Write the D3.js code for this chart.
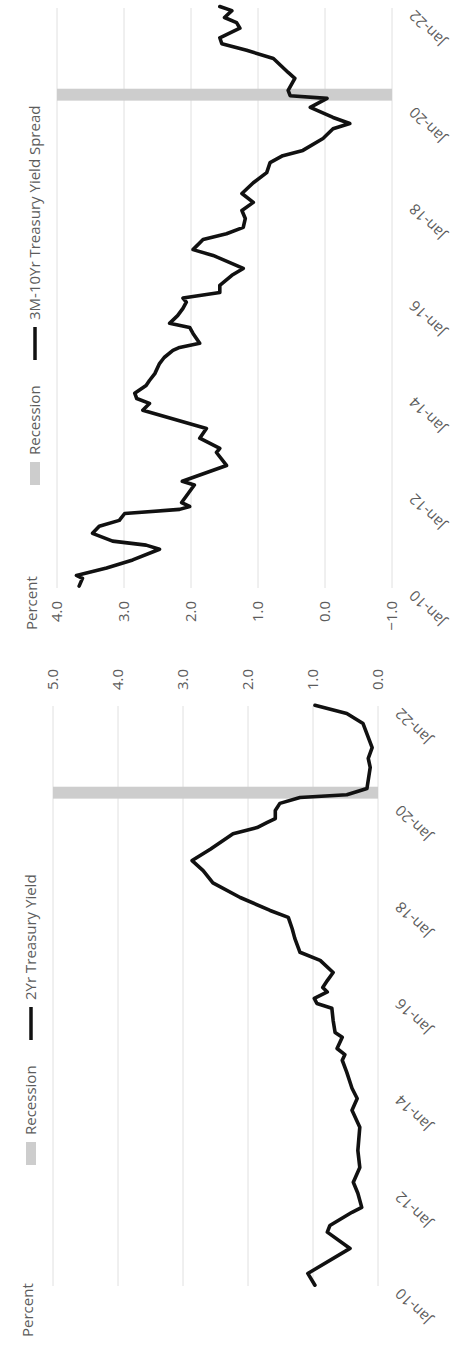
<!DOCTYPE html>
<html>
<head>
<meta charset="utf-8">
<script src="https://cdn.jsdelivr.net/npm/d3@7"></script>
<style>
  body { margin: 0; background: #fff; }
  text { font-family: "Open Sans", sans-serif; font-size: 15px; fill: #5c5c5c; }
</style>
</head>
<body>
<div id="chart"></div>
<script>
// 2yr treasury yield (left panel)
const yieldDates = ["2010-01-07","2010-04-06","2010-10-12","2011-02-12","2011-04-03","2011-07-12","2011-08-18","2011-12-03","2012-02-24","2012-06-15","2012-10-21","2013-04-15","2013-08-21","2013-11-18","2014-02-03","2014-06-03","2014-09-03","2014-10-15","2014-12-01","2015-02-24","2015-04-01","2015-07-01","2015-10-01","2015-11-06","2015-12-15","2016-02-01","2016-03-06","2016-04-27","2016-06-27","2016-09-27","2016-11-27","2017-03-12","2017-05-24","2017-08-18","2017-10-09","2018-01-15","2018-05-06","2018-08-06","2018-10-21","2019-01-15","2019-05-12","2019-06-27","2019-08-03","2019-09-03","2019-11-03","2019-12-27","2020-02-09","2020-03-01","2020-04-18","2020-09-24","2020-12-01","2021-02-21","2021-08-21","2021-11-06","2022-01-06"];
const yieldValues = [0.97,1.08,0.43,0.78,0.74,0.40,0.25,0.31,0.38,0.28,0.31,0.28,0.40,0.32,0.40,0.48,0.55,0.51,0.63,0.55,0.66,0.69,0.71,0.94,0.98,0.78,0.85,0.78,0.69,0.89,1.20,1.28,1.32,1.38,1.66,2.12,2.54,2.69,2.86,2.58,2.23,1.86,1.71,1.58,1.58,1.51,1.20,0.48,0.17,0.12,0.15,0.09,0.23,0.48,0.97];

// 3m-10yr spread (right panel)
const spreadDates = ["2010-01-15","2010-03-15","2010-04-06","2010-06-01","2010-08-01","2010-10-21","2010-11-21","2010-12-21","2011-02-18","2011-04-12","2011-05-27","2011-07-18","2011-08-18","2011-09-09","2011-10-09","2012-02-18","2012-03-18","2012-07-15","2012-10-21","2012-11-21","2013-02-06","2013-04-21","2013-09-06","2013-10-27","2013-12-03","2014-01-12","2014-03-12","2014-04-18","2014-06-09","2014-08-24","2014-10-09","2014-12-01","2014-12-24","2015-01-24","2015-04-09","2015-05-24","2015-06-24","2015-08-21","2015-10-15","2015-12-01","2016-01-01","2016-02-12","2016-04-06","2016-06-21","2016-08-12","2016-11-18","2017-01-01","2017-03-18","2017-05-01","2017-06-18","2017-08-24","2017-10-24","2017-12-24","2018-03-01","2018-05-21","2018-08-06","2018-10-21","2018-12-12","2019-01-21","2019-04-21","2019-07-03","2019-08-12","2019-09-27","2019-12-12","2020-02-18","2020-03-09","2020-04-18","2020-07-18","2020-09-01","2020-12-15","2021-02-15","2021-04-06","2021-05-21","2021-08-01","2021-09-12","2021-10-21","2021-12-12","2022-01-12"];
const spreadValues = [3.67,3.62,3.71,3.26,2.87,2.47,2.67,3.17,3.47,3.37,3.07,2.99,2.17,2.02,2.14,1.95,2.13,1.47,1.62,1.57,1.87,1.77,2.72,2.62,2.81,2.84,2.67,2.62,2.54,2.47,2.40,2.27,2.17,1.87,1.97,2.02,2.32,2.20,2.12,2.07,2.12,1.57,1.57,1.39,1.22,1.67,1.97,1.82,1.47,1.22,1.19,1.24,1.07,1.24,1.07,0.87,0.82,0.63,0.33,0.03,-0.12,-0.37,-0.12,0.22,-0.03,0.52,0.55,0.45,0.55,0.77,1.17,1.54,1.57,1.27,1.32,1.50,1.39,1.57];

// shared bits
const recession = ["2020-02-01", "2020-05-01"];
const dateTicks = ["2010-01-01","2012-01-01","2014-01-01","2016-01-01","2018-01-01","2020-01-01","2022-01-01"];
const dateDomain = ["2010-01-01", "2022-01-01"];
const yieldTicks = [0, 1, 2, 3, 4, 5];
const spreadTicks = [-1, 0, 1, 2, 3, 4];

const parse = d3.timeParse("%Y-%m-%d");
const fmtDate = d3.timeFormat("%b-%y");
const fmtVal = d3.format(".1f");

// landscape page size; the scan is turned on its side
const W = 1348, H = 460;
const svg = d3.select("#chart")
  .append("svg")
    .attr("width", H)
    .attr("height", W);
const page = svg.append("g")
  .attr("transform", `translate(0,${W}) rotate(-90)`);

function panel(p) {
  const g = page.append("g");

  const x = d3.scaleTime()
    .domain(dateDomain.map(parse))
    .range(p.xRange);
  const y = d3.scaleLinear()
    .domain(d3.extent(p.ticks))
    .range(p.yRange);

  // gridlines
  g.selectAll(null)
    .data(p.ticks)
    .enter()
    .append("line")
      .attr("x1", p.xRange[0])
      .attr("x2", p.xRange[1])
      .attr("y1", d => y(d))
      .attr("y2", d => y(d))
      .attr("stroke", "#e0e0e0")
      .attr("stroke-width", 1);

  // recession band
  g.append("rect")
    .attr("x", x(parse(recession[0])))
    .attr("width", x(parse(recession[1])) - x(parse(recession[0])))
    .attr("y", y(d3.max(p.ticks)))
    .attr("height", y(d3.min(p.ticks)) - y(d3.max(p.ticks)))
    .attr("fill", "#cdcdcd");

  // value labels
  g.selectAll(null)
    .data(p.ticks)
    .enter()
    .append("text")
      .attr("x", p.labelX)
      .attr("y", d => y(d))
      .attr("dy", "0.35em")
      .attr("text-anchor", p.labelAnchor)
      .text(fmtVal);

  // date labels, slanted
  g.selectAll(null)
    .data(dateTicks.map(parse))
    .enter()
    .append("text")
      .attr("transform", d => `translate(${x(d) - 5},${p.yRange[0] + 20}) rotate(-45)`)
      .attr("dy", "0.35em")
      .attr("text-anchor", "end")
      .text(fmtDate);

  // the series
  const data = p.dates.map((d, i) => ({ date: parse(d), value: p.values[i] }));
  g.append("path")
    .datum(data)
    .attr("fill", "none")
    .attr("stroke", "#111")
    .attr("stroke-width", 3.6)
    .attr("stroke-linejoin", "round")
    .attr("stroke-linecap", "round")
    .attr("d", d3.line().x(d => x(d.date)).y(d => y(d.value)));

  // unit + legend
  g.append("text").attr("x", p.percentX).attr("y", p.legendY - 3).text("Percent");
  g.append("rect")
    .attr("x", p.legendX).attr("y", p.legendY - 10)
    .attr("width", 23).attr("height", 10)
    .attr("fill", "#cdcdcd");
  g.append("text").attr("x", p.legendX + 30).attr("y", p.legendY).text("Recession");
  g.append("line")
    .attr("x1", p.legendX + 125).attr("x2", p.legendX + 158)
    .attr("y1", p.legendY - 5).attr("y2", p.legendY - 5)
    .attr("stroke", "#111").attr("stroke-width", 3.5);
  g.append("text").attr("x", p.legendX + 165).attr("y", p.legendY).text(p.name);
}

panel({
  name: "2Yr Treasury Yield",
  dates: yieldDates, values: yieldValues, ticks: yieldTicks,
  xRange: [62, 642], yRange: [378, 53],
  labelX: 658, labelAnchor: "start",
  percentX: 11, legendX: 183, legendY: 36
});

panel({
  name: "3M-10Yr Treasury Yield Spread",
  dates: spreadDates, values: spreadValues, ticks: spreadTicks,
  xRange: [760, 1340], yRange: [392, 57],
  labelX: 747, labelAnchor: "end",
  percentX: 718, legendX: 863, legendY: 40
});
</script>
</body>
</html>
